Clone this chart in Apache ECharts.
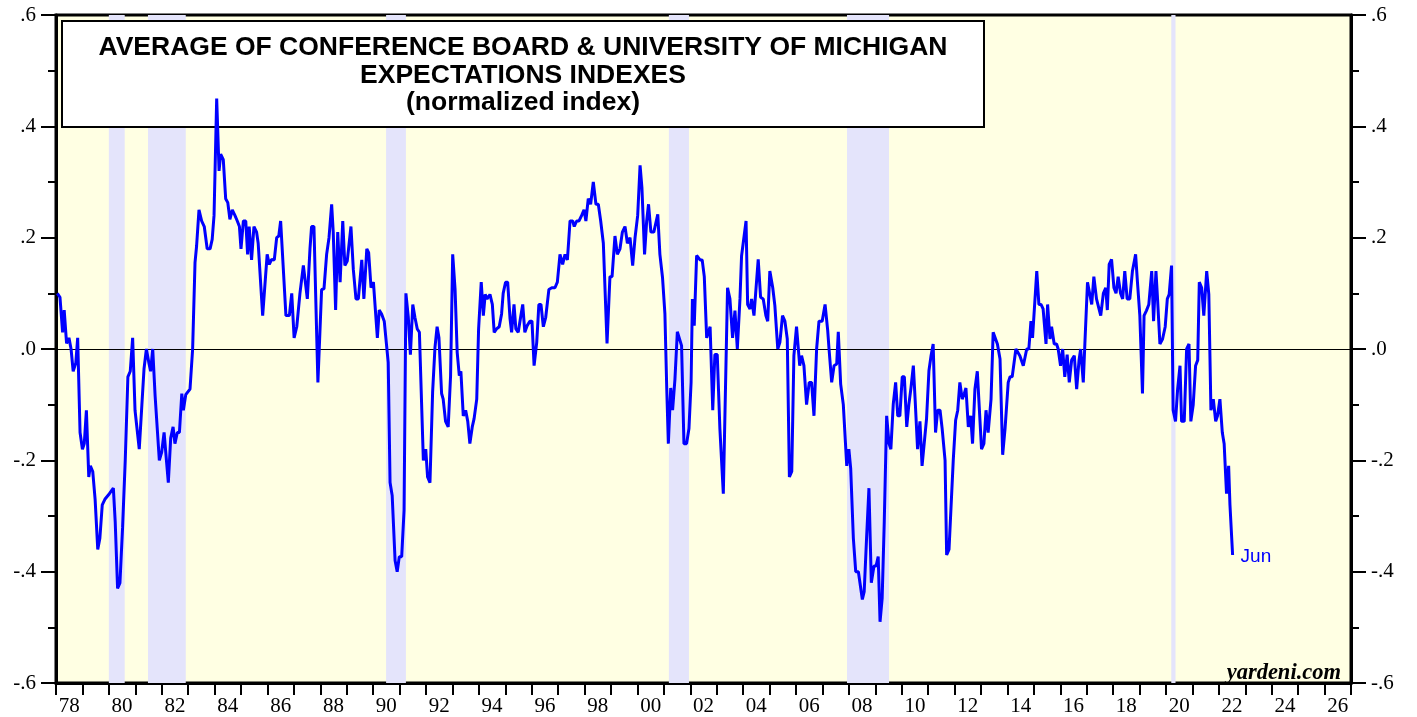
<!DOCTYPE html>
<html>
<head>
<meta charset="utf-8">
<script src="https://cdn.jsdelivr.net/npm/echarts@6/dist/echarts.min.js"></script>
<style>
  html, body { margin: 0; padding: 0; background: #fff; }
  #chart { width: 1417px; height: 717px; }
</style>
</head>
<body>
<div id="chart"></div>
<script>
// monthly-ish turning points (decimal year)
const dates = [
  1978.05,1978.15,1978.25,1978.31,1978.40,1978.49,1978.57,1978.65,1978.75,1978.82,
  1978.91,1979.00,1979.07,1979.15,1979.24,1979.30,1979.39,1979.48,1979.58,1979.66,
  1979.75,1979.85,1980.02,1980.17,1980.24,1980.33,1980.42,1980.52,1980.62,1980.72,
  1980.81,1980.90,1980.99,1981.06,1981.15,1981.25,1981.33,1981.42,1981.51,1981.58,
  1981.66,1981.75,1981.91,1982.00,1982.09,1982.25,1982.34,1982.43,1982.50,1982.59,
  1982.67,1982.76,1982.82,1982.91,1982.98,1983.07,1983.17,1983.26,1983.32,1983.41,
  1983.51,1983.61,1983.72,1983.83,1983.91,1983.98,1984.08,1984.17,1984.23,1984.33,
  1984.42,1984.50,1984.58,1984.67,1984.77,1984.86,1984.94,1985.00,1985.09,1985.18,
  1985.25,1985.31,1985.40,1985.49,1985.59,1985.65,1985.82,1985.99,1986.07,1986.16,
  1986.26,1986.35,1986.43,1986.50,1986.70,1986.83,1986.92,1987.01,1987.11,1987.23,
  1987.36,1987.42,1987.51,1987.61,1987.67,1987.76,1987.91,1988.05,1988.14,1988.24,
  1988.33,1988.43,1988.49,1988.58,1988.66,1988.75,1988.85,1988.93,1989.02,1989.16,
  1989.25,1989.35,1989.44,1989.57,1989.65,1989.76,1989.83,1989.92,1990.01,1990.16,
  1990.23,1990.32,1990.42,1990.57,1990.64,1990.72,1990.83,1990.91,1990.99,1991.08,
  1991.17,1991.24,1991.33,1991.41,1991.50,1991.58,1991.67,1991.75,1991.90,1991.99,
  1992.06,1992.15,1992.25,1992.34,1992.42,1992.49,1992.59,1992.65,1992.74,1992.84,
  1992.93,1993.01,1993.10,1993.18,1993.26,1993.32,1993.41,1993.50,1993.58,1993.66,
  1993.75,1993.82,1993.92,1993.99,1994.09,1994.17,1994.24,1994.31,1994.42,1994.51,
  1994.58,1994.67,1994.77,1994.86,1994.92,1995.01,1995.09,1995.18,1995.24,1995.33,
  1995.40,1995.49,1995.58,1995.66,1995.74,1995.83,1995.93,1996.01,1996.09,1996.19,
  1996.27,1996.35,1996.44,1996.53,1996.65,1996.76,1996.88,1996.97,1997.07,1997.17,
  1997.26,1997.35,1997.45,1997.55,1997.61,1997.70,1997.79,1997.89,1997.98,1998.05,
  1998.14,1998.23,1998.33,1998.43,1998.52,1998.61,1998.71,1998.85,1998.96,1999.04,
  1999.15,1999.24,1999.34,1999.43,1999.53,1999.62,1999.72,1999.82,1999.91,2000.01,
  2000.10,2000.17,2000.27,2000.35,2000.42,2000.51,2000.62,2000.77,2000.85,2000.95,
  2001.04,2001.11,2001.17,2001.26,2001.33,2001.42,2001.51,2001.58,2001.67,2001.76,
  2001.86,2001.95,2002.03,2002.08,2002.15,2002.24,2002.37,2002.45,2002.53,2002.62,
  2002.75,2002.85,2002.93,2003.02,2003.12,2003.25,2003.41,2003.50,2003.60,2003.69,
  2003.78,2003.88,2003.94,2004.11,2004.17,2004.26,2004.32,2004.41,2004.57,2004.66,
  2004.76,2004.86,2004.93,2005.01,2005.12,2005.20,2005.31,2005.39,2005.49,2005.58,
  2005.67,2005.75,2005.84,2005.92,2006.02,2006.14,2006.21,2006.30,2006.40,2006.50,
  2006.59,2006.68,2006.78,2006.87,2006.99,2007.10,2007.20,2007.25,2007.35,2007.44,
  2007.54,2007.60,2007.69,2007.79,2007.92,2008.00,2008.07,2008.17,2008.26,2008.36,
  2008.42,2008.51,2008.58,2008.67,2008.76,2008.85,2008.95,2009.03,2009.11,2009.18,
  2009.26,2009.34,2009.43,2009.52,2009.59,2009.68,2009.77,2009.85,2009.93,2010.02,
  2010.10,2010.19,2010.27,2010.35,2010.44,2010.51,2010.60,2010.69,2010.77,2010.85,
  2010.94,2011.03,2011.11,2011.19,2011.28,2011.36,2011.45,2011.53,2011.64,2011.70,
  2011.79,2011.86,2011.95,2012.04,2012.12,2012.20,2012.29,2012.37,2012.43,2012.52,
  2012.61,2012.68,2012.77,2012.86,2012.93,2013.02,2013.11,2013.19,2013.27,2013.38,
  2013.46,2013.53,2013.62,2013.72,2013.82,2013.91,2014.03,2014.10,2014.18,2014.32,
  2014.47,2014.60,2014.73,2014.81,2014.89,2014.95,2015.11,2015.19,2015.27,2015.35,
  2015.46,2015.52,2015.61,2015.67,2015.77,2015.86,2015.92,2016.01,2016.09,2016.17,
  2016.26,2016.34,2016.43,2016.53,2016.62,2016.71,2016.77,2016.87,2016.93,2017.03,
  2017.19,2017.27,2017.37,2017.44,2017.53,2017.63,2017.72,2017.78,2017.85,2017.94,
  2018.03,2018.11,2018.19,2018.28,2018.36,2018.44,2018.53,2018.63,2018.73,2018.85,
  2018.92,2019.01,2019.11,2019.17,2019.26,2019.35,2019.46,2019.53,2019.62,2019.68,
  2019.77,2019.87,2019.97,2020.05,2020.12,2020.21,2020.27,2020.36,2020.44,2020.53,
  2020.59,2020.69,2020.78,2020.87,2020.94,2021.03,2021.12,2021.20,2021.26,2021.35,
  2021.43,2021.54,2021.62,2021.70,2021.79,2021.88,2021.95,2022.04,2022.13,2022.20,
  2022.29,2022.37,2022.42,2022.52
];

// normalized index
const values = [
  0.10,0.093,0.03,0.07,0.01,0.02,0.0,-0.04,-0.025,0.02,
  -0.15,-0.18,-0.17,-0.11,-0.23,-0.21,-0.22,-0.27,-0.36,-0.34,
  -0.28,-0.27,-0.26,-0.25,-0.31,-0.43,-0.42,-0.32,-0.20,-0.05,
  -0.04,0.02,-0.11,-0.11,-0.18,-0.10,-0.036,0.0,-0.024,-0.04,
  0.0,-0.084,-0.20,-0.185,-0.15,-0.24,-0.16,-0.14,-0.17,-0.15,
  -0.15,-0.08,-0.11,-0.082,-0.08,-0.072,0.0,0.155,0.185,0.25,
  0.23,0.22,0.18,0.18,0.197,0.24,0.45,0.32,0.35,0.34,
  0.27,0.263,0.233,0.25,0.24,0.23,0.22,0.18,0.23,0.23,
  0.17,0.22,0.16,0.22,0.21,0.19,0.06,0.17,0.152,0.161,
  0.16,0.20,0.203,0.23,0.06,0.06,0.10,0.02,0.04,0.10,
  0.15,0.15,0.09,0.18,0.22,0.22,-0.06,0.107,0.108,0.17,
  0.20,0.26,0.21,0.07,0.21,0.12,0.23,0.15,0.158,0.22,
  0.143,0.09,0.09,0.16,0.09,0.18,0.173,0.11,0.12,0.02,
  0.07,0.063,0.05,-0.024,-0.24,-0.263,-0.38,-0.40,-0.373,-0.373,
  -0.29,0.10,0.057,-0.01,0.08,0.057,0.036,0.03,-0.20,-0.18,
  -0.23,-0.24,-0.078,0.003,0.04,0.02,-0.08,-0.09,-0.13,-0.14,
  -0.048,0.17,0.107,-0.006,-0.048,-0.04,-0.12,-0.11,-0.13,-0.17,
  -0.14,-0.125,-0.09,0.036,0.12,0.06,0.098,0.09,0.098,0.08,
  0.03,0.036,0.04,0.063,0.10,0.12,0.12,0.054,0.03,0.08,
  0.036,0.03,0.057,0.08,0.03,0.042,0.05,0.05,-0.03,0.012,
  0.08,0.08,0.04,0.057,0.107,0.11,0.11,0.12,0.17,0.152,
  0.17,0.16,0.23,0.23,0.22,0.23,0.23,0.24,0.25,0.23,
  0.27,0.26,0.30,0.26,0.26,0.23,0.19,0.01,0.13,0.13,
  0.203,0.17,0.18,0.21,0.22,0.19,0.20,0.15,0.20,0.24,
  0.33,0.29,0.17,0.23,0.26,0.21,0.21,0.242,0.17,0.128,
  0.063,-0.072,-0.17,-0.07,-0.11,-0.054,0.031,0.031,0.006,-0.17,
  -0.17,-0.143,-0.06,0.09,0.042,0.168,0.16,0.16,0.13,0.02,
  0.04,-0.11,-0.01,-0.01,-0.143,-0.26,0.11,0.09,0.02,0.069,
  0.0,0.09,0.167,0.23,0.08,0.072,0.09,0.06,0.161,0.093,
  0.09,0.06,0.05,0.14,0.11,0.078,0.0,0.012,0.06,0.05,
  0.018,-0.23,-0.22,-0.012,0.04,-0.03,-0.012,-0.03,-0.10,-0.06,
  -0.06,-0.12,0.0,0.05,0.05,0.08,0.033,0.0,-0.06,-0.03,
  -0.027,0.031,-0.063,-0.10,-0.21,-0.18,-0.215,-0.34,-0.40,-0.40,
  -0.42,-0.45,-0.436,-0.34,-0.25,-0.42,-0.39,-0.39,-0.373,-0.49,
  -0.448,-0.31,-0.12,-0.17,-0.18,-0.099,-0.06,-0.12,-0.12,-0.05,
  -0.05,-0.14,-0.10,-0.07,-0.03,-0.093,-0.18,-0.13,-0.21,-0.17,
  -0.125,-0.039,-0.012,0.009,-0.15,-0.11,-0.11,-0.143,-0.20,-0.37,
  -0.36,-0.36,-0.20,-0.128,-0.11,-0.06,-0.09,-0.08,-0.07,-0.14,
  -0.12,-0.17,-0.072,-0.04,-0.04,-0.18,-0.17,-0.11,-0.15,-0.09,
  0.03,0.027,0.009,-0.018,-0.19,-0.143,-0.06,-0.05,-0.05,0.0,
  -0.012,-0.03,0.0,0.0,0.05,0.02,0.14,0.08,0.08,0.072,
  0.009,0.08,0.018,0.04,0.009,0.009,0.0,-0.03,0.0,-0.05,
  -0.01,-0.06,-0.02,-0.012,-0.072,-0.02,0.0,-0.06,0.009,0.12,
  0.08,0.13,0.09,0.09,0.06,0.10,0.11,0.07,0.152,0.161,
  0.11,0.10,0.13,0.10,0.09,0.14,0.09,0.09,0.14,0.17,
  0.12,0.06,-0.08,0.06,0.069,0.08,0.14,0.05,0.14,0.09,
  0.009,0.018,0.04,0.09,0.098,0.15,-0.11,-0.13,-0.072,-0.03,
  -0.13,-0.13,0.0,0.009,-0.13,-0.10,-0.03,-0.02,0.12,0.11,
  0.06,0.14,0.098,-0.11,-0.09,-0.13,-0.12,-0.09,-0.15,-0.17,
  -0.26,-0.21,-0.28,-0.37
];

// recession shading (start, end)
const recessions = [
  [1980.0, 1980.6],
  [1981.48, 1982.91],
  [1990.49, 1991.24],
  [2001.19, 2001.95],
  [2007.93, 2009.52],
  [2020.2, 2020.36]
];

const firstYear = 1978;
const lastYear = 2027;
const yMin = -0.6, yMax = 0.6, yStep = 0.2;

const yearCats = [];
for (let y = firstYear; y < lastYear; y++) yearCats.push(String(y));

const fmtY = v => {
  const s = (Math.round(v * 10) / 10).toFixed(1);
  return s.replace('0.', '.');
};

const chart = echarts.init(document.getElementById('chart'));

const yAxisBase = {
  type: 'value',
  min: yMin,
  max: yMax,
  interval: yStep,
  splitLine: { show: false },
  axisLine: { show: true, lineStyle: { color: '#000', width: 3 } },
  axisTick: { show: true, length: 15, lineStyle: { color: '#000', width: 2 } },
  minorTick: { show: true, splitNumber: 2, length: 8, lineStyle: { color: '#000', width: 2 } },
  minorSplitLine: { show: false },
  axisLabel: {
    color: '#000',
    fontFamily: 'Liberation Serif',
    fontSize: 21,
    margin: 20,
    formatter: fmtY
  }
};

const titleFont = 'bold 26.5px "Liberation Sans", Arial, sans-serif';

const option = {
  animation: false,
  grid: {
    left: 56, right: 66, top: 15, bottom: 32,
    show: true,
    backgroundColor: '#FFFFE3',
    borderColor: '#000',
    borderWidth: 3
  },
  xAxis: [
    {
      type: 'value',
      min: firstYear,
      max: lastYear,
      show: false
    },
    {
      type: 'category',
      data: yearCats,
      position: 'bottom',
      boundaryGap: true,
      axisLine: { show: true, onZero: false, lineStyle: { color: '#000', width: 3 } },
      axisTick: { show: true, interval: 0, length: 12, lineStyle: { color: '#000', width: 2 } },
      axisLabel: {
        interval: 1,
        color: '#000',
        fontFamily: 'Liberation Serif',
        fontSize: 21,
        margin: 13,
        formatter: v => v.slice(2)
      },
      splitLine: { show: false }
    }
  ],
  yAxis: [
    Object.assign({}, yAxisBase, { position: 'left' }),
    Object.assign({}, yAxisBase, { position: 'right' })
  ],
  graphic: [
    {
      type: 'rect',
      z: 3,
      shape: { x: 62, y: 21, width: 922, height: 106 },
      style: { fill: '#fff', stroke: '#000', lineWidth: 2 }
    },
    {
      type: 'text',
      z: 4,
      x: 523, y: 48,
      style: {
        text: 'AVERAGE OF CONFERENCE BOARD & UNIVERSITY OF MICHIGAN',
        fill: '#000', font: titleFont,
        textAlign: 'center', textVerticalAlign: 'middle'
      }
    },
    {
      type: 'text',
      z: 4,
      x: 523, y: 76,
      style: {
        text: 'EXPECTATIONS INDEXES',
        fill: '#000', font: titleFont,
        textAlign: 'center', textVerticalAlign: 'middle'
      }
    },
    {
      type: 'text',
      z: 4,
      x: 523, y: 103,
      style: {
        text: '(normalized index)',
        fill: '#000', font: titleFont,
        textAlign: 'center', textVerticalAlign: 'middle'
      }
    },
    {
      type: 'text',
      z: 4,
      x: 1341, y: 673,
      style: {
        text: 'yardeni.com',
        fill: '#000',
        font: 'italic bold 22.5px "Liberation Serif", serif',
        textAlign: 'right', textVerticalAlign: 'middle'
      }
    }
  ],
  series: [
    {
      name: 'recessions',
      type: 'line',
      xAxisIndex: 0,
      yAxisIndex: 0,
      data: [],
      z: 1,
      silent: true,
      markArea: {
        silent: true,
        itemStyle: { color: '#E4E4FB' },
        data: recessions.map(r => [{ xAxis: r[0] }, { xAxis: r[1] }])
      },
      markLine: {
        silent: true,
        symbol: 'none',
        label: { show: false },
        lineStyle: { color: '#000', width: 1, type: 'solid' },
        data: [{ yAxis: 0 }]
      }
    },
    {
      name: 'Average expectations',
      type: 'line',
      xAxisIndex: 0,
      yAxisIndex: 0,
      z: 10,
      showSymbol: false,
      data: dates.map((d, i) => [d, values[i]]),
      lineStyle: { color: '#0000FF', width: 3 },
      endLabel: {
        show: true,
        formatter: 'Jun',
        color: '#0000FF',
        fontFamily: '"Liberation Sans", Arial, sans-serif',
        fontSize: 19,
        offset: [0, 2]
      }
    }
  ]
};

chart.setOption(option);
</script>
</body>
</html>
